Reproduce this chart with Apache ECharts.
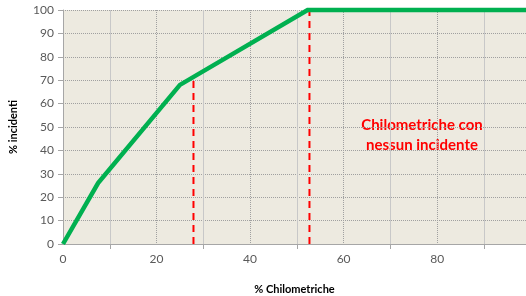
<!DOCTYPE html>
<html><head><meta charset="utf-8">
<script src="https://cdn.jsdelivr.net/npm/echarts@6/dist/echarts.min.js"></script>
<style>html,body{margin:0;padding:0;background:#fff}#c{width:526px;height:296px}</style>
</head><body><div id="c"></div>
<script>
// data
const curveX = [0, 7.5, 25, 52.3, 99];
const curveY = [0, 26, 68, 100, 100];
const dash1X = [27.9, 27.9];
const dash1Y = [0, 70];
const dash2X = [52.7, 52.7];
const dash2Y = [0, 100];
const yTicks = [0,10,20,30,40,50,60,70,80,90,100];
const xLabel = '% Chilometriche';
const yLabel = '% incidenti';
const noteLines = ['Chilometriche con', 'nessun incidente'];

const zip = (a,b)=>a.map((v,i)=>[v,b[i]]);
const font = 'Lato, "Open Sans", sans-serif';
const chart = echarts.init(document.getElementById('c'), null, {renderer:'canvas'});
chart.setOption({
  animation:false,
  backgroundColor:'#fff',
  grid:{left:63, top:10, right:0, bottom:52, show:true, backgroundColor:'#EDEAE0', borderWidth:0,
    containLabel:false, outerBoundsMode:'none'},
  xAxis:{type:'value', min:0, max:99, interval:20,
    axisLine:{show:true, onZero:false, lineStyle:{color:'#a6a6a6', width:1}},
    axisTick:{show:false},
    minorTick:{show:true, splitNumber:2, length:5, lineStyle:{color:'#a6a6a6'}},
    axisLabel:{color:'#595959', fontSize:12, fontFamily:font, margin:9,
      formatter:v=> (v===0||v%20===0)&&v<99 ? String(v) : ''},
    splitLine:{show:true, lineStyle:{color:'#a0a0a0', type:[1,1], width:1}},
    minorSplitLine:{show:true, lineStyle:{color:'#c8c8c8', width:1}},
    name:xLabel, nameLocation:'middle', nameGap:40,
    nameTextStyle:{fontWeight:'bold', fontSize:11, color:'#000', fontFamily:font}
  },
  yAxis:{type:'value', min:0, max:100, interval:10,
    axisLine:{show:true, lineStyle:{color:'#a6a6a6'}},
    axisTick:{show:true, length:5, lineStyle:{color:'#a6a6a6'}},
    axisLabel:{color:'#595959', fontSize:12, fontFamily:font, margin:9},
    splitLine:{show:true, lineStyle:{color:'#a0a0a0', type:[1,1]}},
    name:yLabel, nameLocation:'middle', nameGap:44, nameRotate:90,
    nameTextStyle:{fontWeight:'bold', fontSize:11, color:'#000', fontFamily:font}
  },
  series:[
    {type:'line', data:zip(dash1X,dash1Y), symbol:'none', clip:false, z:3,
      lineStyle:{color:'#ff0000', width:2, type:[7,5]}},
    {type:'line', data:zip(dash2X,dash2Y), symbol:'none', clip:false, z:3,
      lineStyle:{color:'#ff0000', width:2, type:[7,5]}},
    {type:'line', data:zip(curveX,curveY), symbol:'none', clip:false, z:4,
      lineStyle:{color:'#00B050', width:4.5, join:'miter'}}
  ],
  graphic:[{type:'text', x:422, y:115, style:{text:noteLines.join('\n'), fill:'#ff0000',
    font:'bold 15px '+font, align:'center', verticalAlign:'top', lineHeight:20}}]
});
</script></body></html>
